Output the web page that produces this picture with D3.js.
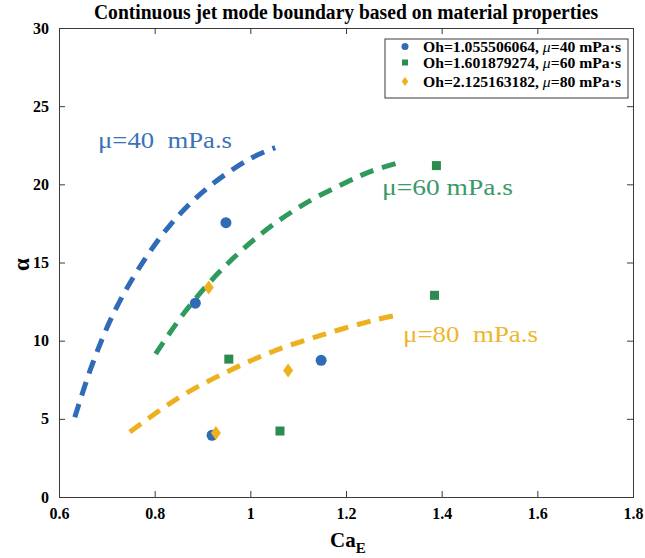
<!DOCTYPE html>
<html>
<head>
<meta charset="utf-8">
<script src="https://cdn.jsdelivr.net/npm/d3@7"></script>
<style>
  body { margin: 0; background: #fff; }
  text { font-family: "Liberation Serif", "Times New Roman", serif; }
</style>
</head>
<body>
<svg id="chart" width="645" height="558"></svg>
<script>
// measured points
var blueX = [0.949, 0.885, 1.148, 0.920];
var blueY = [17.55, 12.4, 8.74, 3.95];
var greenX = [1.389, 1.385, 0.955, 1.062];
var greenY = [21.2, 12.9, 8.82, 4.22];
var orangeX = [0.913, 1.079, 0.928];
var orangeY = [13.4, 8.09, 4.1];

// boundary curves
var blueCurveX = [0.633, 0.668, 0.711, 0.765, 0.831, 0.910, 1.002, 1.052];
var blueCurveY = [5.1, 8.35, 11.55, 14.53, 17.35, 19.76, 21.68, 22.35];
var greenCurveX = [0.802, 0.863, 0.936, 1.020, 1.110, 1.204, 1.256, 1.312];
var greenCurveY = [9.15, 11.83, 14.42, 16.77, 18.69, 20.18, 20.88, 21.4];
var orangeCurveX = [0.748, 0.849, 0.946, 1.047, 1.152, 1.256, 1.314];
var orangeCurveY = [4.15, 6.33, 7.93, 9.31, 10.38, 11.29, 11.68];

var legendLabels = ["Oh=1.055506064, ", "Oh=1.601879274, ", "Oh=2.125163182, "];
var legendMu = ["=40 mPa\u00b7s", "=60 mPa\u00b7s", "=80 mPa\u00b7s"];
var xTicks = [0.6, 0.8, 1, 1.2, 1.4, 1.6, 1.8];
var yTicks = [0, 5, 10, 15, 20, 25, 30];

var colors = { blue: "#2f6bb6", green: "#2f9a5c", orange: "#edb120" };

var svg = d3.select("#chart");
var pLeft = 59, pRight = 633, pTop = 28, pBottom = 497;

var x = d3.scaleLinear().domain([0.6, 1.8]).range([pLeft, pRight]);
var y = d3.scaleLinear().domain([0, 30]).range([pBottom, pTop]);

var axisColor = "#3a3a3a";
var tickLen = 6;

// axes (MATLAB style, ticks inside, box on)
var fmt = function (d) { return d3.format("~g")(d); };
svg.append("g")
  .attr("transform", "translate(0," + pBottom + ")")
  .call(d3.axisBottom(x).tickValues(xTicks).tickSize(-tickLen).tickPadding(tickLen + 5).tickFormat(fmt))
  .call(function (g) {
    g.select(".domain").attr("stroke", axisColor);
    g.selectAll("line").attr("stroke", axisColor);
    g.selectAll("text").attr("fill", "#000").style("font-size", "16px").style("font-weight", "bold");
  });
svg.append("g")
  .attr("transform", "translate(0," + pTop + ")")
  .call(d3.axisTop(x).tickValues(xTicks).tickSize(-tickLen).tickFormat(""))
  .call(function (g) {
    g.select(".domain").attr("stroke", axisColor);
    g.selectAll("line").attr("stroke", axisColor);
  });
svg.append("g")
  .attr("transform", "translate(" + pLeft + ",0)")
  .call(d3.axisLeft(y).tickValues(yTicks).tickSize(-tickLen).tickPadding(tickLen + 4))
  .call(function (g) {
    g.select(".domain").attr("stroke", axisColor);
    g.selectAll("line").attr("stroke", axisColor);
    g.selectAll("text").attr("fill", "#000").style("font-size", "16px").style("font-weight", "bold");
  });
svg.append("g")
  .attr("transform", "translate(" + pRight + ",0)")
  .call(d3.axisRight(y).tickValues(yTicks).tickSize(-tickLen).tickFormat(""))
  .call(function (g) {
    g.select(".domain").attr("stroke", axisColor);
    g.selectAll("line").attr("stroke", axisColor);
  });

// title
svg.append("text")
  .attr("x", (pLeft + pRight) / 2)
  .attr("y", 19)
  .attr("text-anchor", "middle")
  .attr("textLength", 504)
  .attr("lengthAdjust", "spacingAndGlyphs")
  .style("font-size", "20px")
  .style("font-weight", "bold")
  .text("Continuous jet mode boundary based on material properties");

// x label with subscript
var xl = svg.append("text")
  .attr("x", 330)
  .attr("y", 547)
  .style("font-size", "21px")
  .style("font-weight", "bold");
xl.append("tspan").text("Ca");
xl.append("tspan").attr("dy", 6).style("font-size", "15px").text("E");

// y label
svg.append("text")
  .attr("transform", "translate(29," + ((pTop + pBottom) / 2 + 2) + ") rotate(-90)")
  .attr("text-anchor", "middle")
  .style("font-size", "23px")
  .style("font-weight", "bold")
  .text("\u03b1");

// dashed boundary curves
var line = d3.line()
  .x(function (d) { return x(d[0]); })
  .y(function (d) { return y(d[1]); })
  .curve(d3.curveCatmullRom);

function drawCurve(xs, ys, color) {
  svg.append("path")
    .datum(d3.zip(xs, ys))
    .attr("d", line)
    .attr("fill", "none")
    .attr("stroke", color)
    .attr("stroke-width", 5)
    .attr("stroke-dasharray", "14,9");
}
drawCurve(blueCurveX, blueCurveY, colors.blue);
drawCurve(greenCurveX, greenCurveY, colors.green);
drawCurve(orangeCurveX, orangeCurveY, colors.orange);

// markers
svg.selectAll(".blue")
  .data(d3.zip(blueX, blueY))
  .enter().append("circle")
  .attr("class", "blue")
  .attr("cx", function (d) { return x(d[0]); })
  .attr("cy", function (d) { return y(d[1]); })
  .attr("r", 5.5)
  .attr("fill", colors.blue);

svg.selectAll(".green")
  .data(d3.zip(greenX, greenY))
  .enter().append("rect")
  .attr("class", "green")
  .attr("x", function (d) { return x(d[0]) - 4.5; })
  .attr("y", function (d) { return y(d[1]) - 4.5; })
  .attr("width", 9)
  .attr("height", 9)
  .attr("fill", "#2e8b50");

var diamond = "M0,-7L5,0L0,7L-5,0Z";
svg.selectAll(".orange")
  .data(d3.zip(orangeX, orangeY))
  .enter().append("path")
  .attr("class", "orange")
  .attr("d", diamond)
  .attr("transform", function (d) { return "translate(" + x(d[0]) + "," + y(d[1]) + ")"; })
  .attr("fill", colors.orange);

// curve annotations
function note(tx, ty, w, label, color) {
  svg.append("text")
    .attr("x", tx)
    .attr("y", ty)
    .attr("fill", color)
    .attr("textLength", w)
    .attr("lengthAdjust", "spacingAndGlyphs")
    .style("font-size", "23px")
    .style("white-space", "pre")
    .text(label);
}
note(98, 148, 134, "\u03bc=40  mPa.s", "#3a72b8");
note(382, 195, 131, "\u03bc=60 mPa.s", "#3a9a6a");
note(403, 342, 135, "\u03bc=80  mPa.s", "#efb52c");

// legend
var lg = svg.append("g").attr("transform", "translate(385,39)");
lg.append("rect")
  .attr("width", 243).attr("height", 59)
  .attr("fill", "#fff").attr("stroke", axisColor).attr("stroke-width", 1);
var rowY = [7.5, 23.5, 42.5];
lg.append("circle").attr("cx", 20).attr("cy", rowY[0]).attr("r", 3.5).attr("fill", colors.blue);
lg.append("rect").attr("x", 17).attr("y", rowY[1] - 3).attr("width", 6).attr("height", 6).attr("fill", "#2e8b50");
lg.append("path").attr("d", "M0,-4.5L3.3,0L0,4.5L-3.3,0Z").attr("transform", "translate(20," + rowY[2] + ")").attr("fill", colors.orange);
legendLabels.forEach(function (lab, i) {
  var t = lg.append("text")
    .attr("x", 38)
    .attr("y", rowY[i] + 5)
    .attr("textLength", 198)
    .attr("lengthAdjust", "spacingAndGlyphs")
    .style("font-size", "15px")
    .style("font-weight", "bold");
  t.append("tspan").text(lab);
  t.append("tspan").style("font-style", "italic").style("font-weight", "normal").text("\u03bc");
  t.append("tspan").text(legendMu[i]);
});
</script>
</body>
</html>
